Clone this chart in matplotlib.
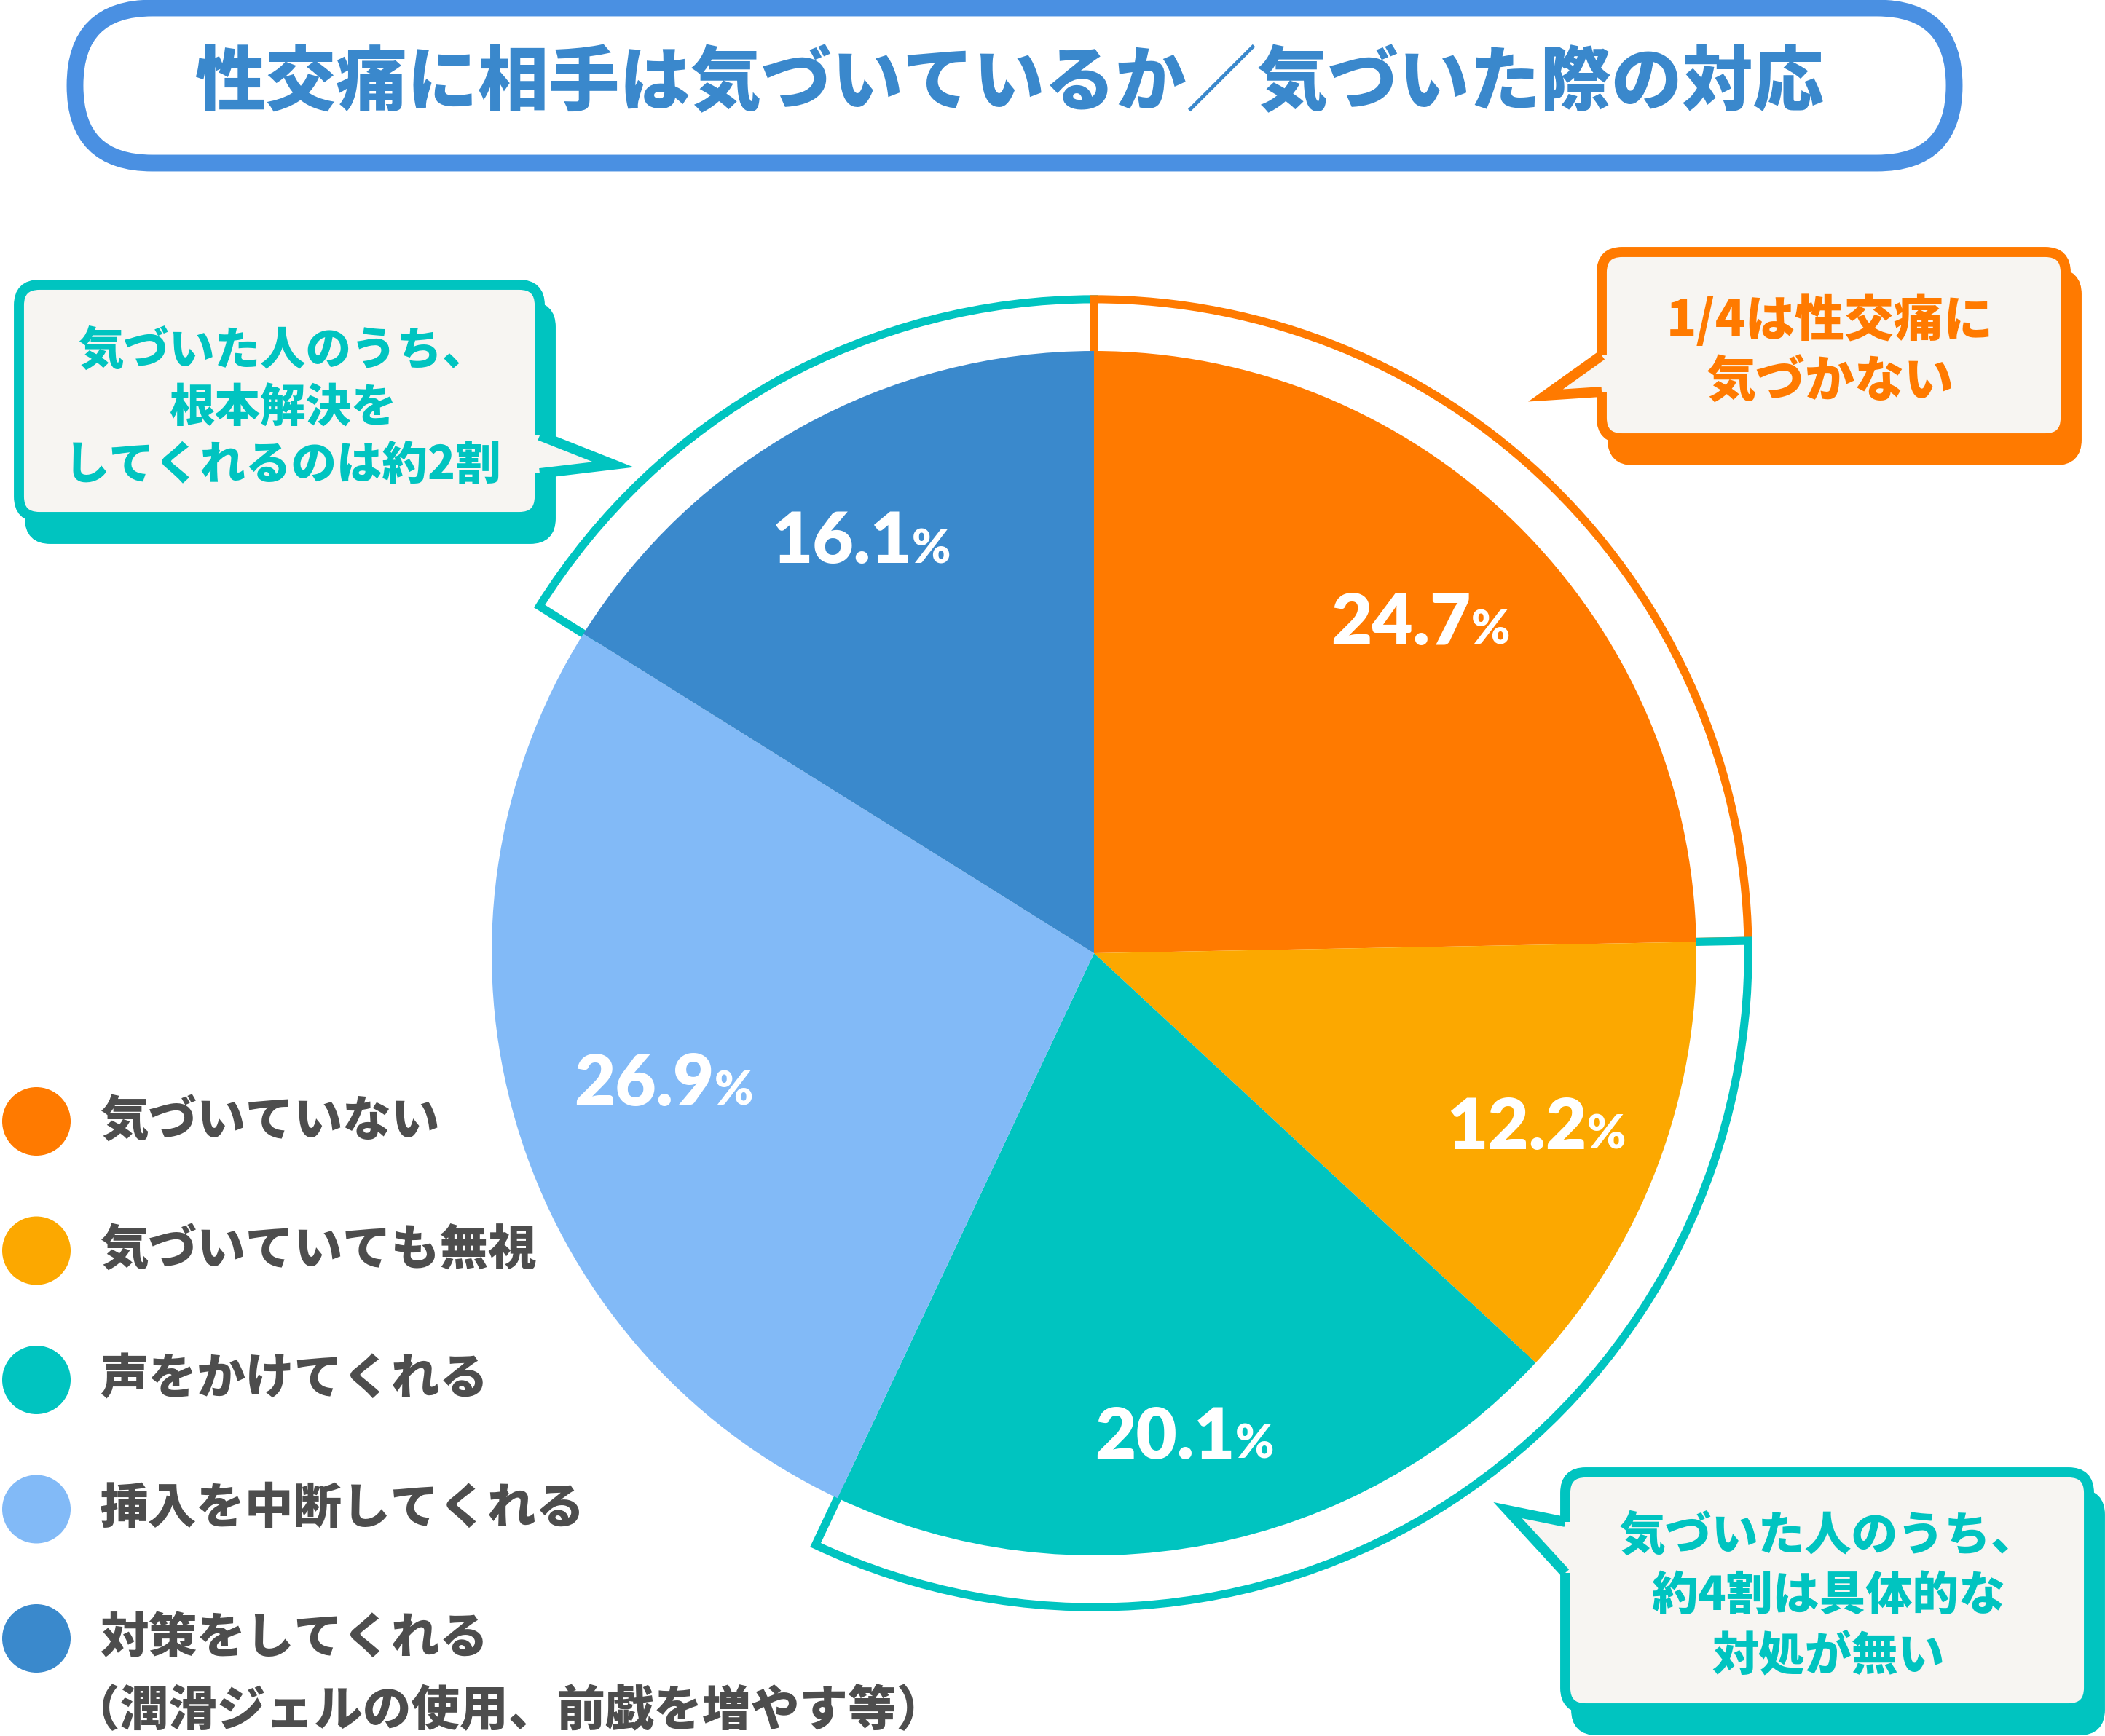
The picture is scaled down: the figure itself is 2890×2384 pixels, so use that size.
import numpy as np
import matplotlib.pyplot as plt
from matplotlib.patches import FancyBboxPatch, Wedge, Polygon, Circle, Rectangle

plt.rcParams['font.family'] = ['Noto Sans CJK JP', 'DejaVu Sans']

W, H = 2890, 2384

# --- data ---
title = '性交痛に相手は気づいているか／気づいた際の対応'
categories = ['気づいていない', '気づいていても無視', '声をかけてくれる',
              '挿入を中断してくれる', '対策をしてくれる']
last_note = '（潤滑ジェルの使用、前戯を増やす等）'
values = [24.7, 12.2, 20.1, 26.9, 16.1]
colors = ['#FF7A00', '#FCA800', '#00C4C0', '#82BAF7', '#3A89CC']

note_left = ['気づいた人のうち、', '根本解決を', 'してくれるのは約2割']
note_orange = ['1/4は性交痛に', '気づかない']
note_right = ['気づいた人のうち、', '約4割は具体的な', '対処が無い']

# label distance from centre, as a fraction of the radius
label_dist = [0.78, 0.79, 0.81, 0.74, 0.79]

TITLE_BLUE = '#4A90E2'
TITLE_TEXT = '#3A88CC'
BOX_BG = '#F7F5F2'
GREY = '#4D4D4D'
HEAVY = 'black'


def Y(y):
    # layout measured from the top of the picture
    return H - y


fig = plt.figure(figsize=(W / 100, H / 100), dpi=100)
ax = fig.add_axes([0, 0, 1, 1])

# pie
cx, cy, R = 1502, Y(1309), 827
wedges, _ = ax.pie(values, colors=colors, startangle=90, counterclock=False,
                   center=(cx, cy), radius=R,
                   wedgeprops=dict(linewidth=0, zorder=3))

# brackets around groups of slices (left teal, orange, right teal)
groups = [([4], '#00C4C0'), ([0], '#FF7A00'), ([1, 2], '#00C4C0')]
r_out = R * 1.086
for idx, col in groups:
    t1 = min(wedges[i].theta1 for i in idx)
    t2 = max(wedges[i].theta2 for i in idx)
    ax.add_patch(Wedge((cx, cy), r_out, t1, t2, width=r_out - R * 0.98,
                       facecolor='white', edgecolor=col, lw=8,
                       joinstyle='miter', zorder=2))

# percentage labels
for w, v, d in zip(wedges, values, label_dist):
    mid = np.deg2rad((w.theta1 + w.theta2) / 2)
    lx = cx + d * R * np.cos(mid)
    ly = cy + d * R * np.sin(mid) - 36
    ax.text(lx + 66, ly, f'{v:.1f}', ha='right', va='baseline', color='white',
            fontsize=70, fontweight='heavy', family='Lato', zorder=5)
    ax.text(lx + 66, ly, '%', ha='left', va='baseline', color='white',
            fontsize=46, fontweight='heavy', family='Lato', zorder=5)

# title pill
ax.add_patch(FancyBboxPatch((103, Y(224)), 2580, 213,
                            boxstyle='round,pad=0,rounding_size=106',
                            facecolor='white', edgecolor=TITLE_BLUE, lw=16.5))
ax.text(1385, Y(115), title, ha='center', va='center', color=TITLE_TEXT,
        fontsize=70, fontweight=HEAVY)


def callout(x0, y0, x1, y1, tail, edge_x, color, lines, fs, tx, ty, gap):
    lw = 10
    wpx, hpx = x1 - x0, y1 - y0
    ax.add_patch(FancyBboxPatch((x0 + 15, Y(y1) - 30), wpx, hpx,
                                boxstyle='round,pad=0,rounding_size=28',
                                facecolor=color, edgecolor=color, lw=lw, zorder=6))
    ax.add_patch(FancyBboxPatch((x0, Y(y1)), wpx, hpx,
                                boxstyle='round,pad=0,rounding_size=28',
                                facecolor=BOX_BG, edgecolor=color, lw=lw, zorder=7))
    pts = [(px, Y(py)) for px, py in tail]
    (bx1, by1), _, (bx2, by2) = pts
    side = 1 if tail[1][0] > edge_x else -1
    ax.add_patch(Rectangle((edge_x - 16 if side > 0 else edge_x - 6, min(by1, by2)),
                           22, abs(by1 - by2), facecolor=BOX_BG, lw=0, zorder=8))
    ax.add_patch(Polygon(pts, closed=False, facecolor=BOX_BG, edgecolor=color,
                         lw=lw, joinstyle='miter', zorder=9))
    for k, s in enumerate(lines):
        ax.text(tx, Y(ty + k * gap), s, ha='center', va='center', color=color,
                fontsize=fs, fontweight=HEAVY, zorder=10)


callout(26, 391, 741, 710, [(741, 598), (842, 638), (741, 650)], 741,
        '#00C4C0', note_left, 45, 388, 482, 78.5)
callout(2199, 346, 2836, 602, [(2199, 488), (2122, 543), (2199, 538)], 2199,
        '#FF7A00', note_orange, 49, 2512, 440, 85)
callout(2149, 2022, 2868, 2346, [(2149, 2090), (2070, 2074), (2149, 2160)], 2149,
        '#00C4C0', note_right, 46, 2510, 2110, 82.5)

# legend
ly0, lgap = 1540, 177.5
for k, (lab, col) in enumerate(zip(categories, colors)):
    yy = Y(ly0 + k * lgap)
    ax.add_patch(Circle((50, yy), 47, facecolor=col, lw=0))
    ax.text(137, yy, lab, ha='left', va='center', color=GREY,
            fontsize=48, fontweight=HEAVY)
ax.text(98, Y(ly0 + 4 * lgap + 100), last_note, ha='left', va='center',
        color=GREY, fontsize=48, fontweight=HEAVY)

ax.set_xlim(0, W)
ax.set_ylim(0, H)
ax.set_aspect('equal')
ax.axis('off')

fig.savefig('out.png', dpi=100, facecolor='white')
